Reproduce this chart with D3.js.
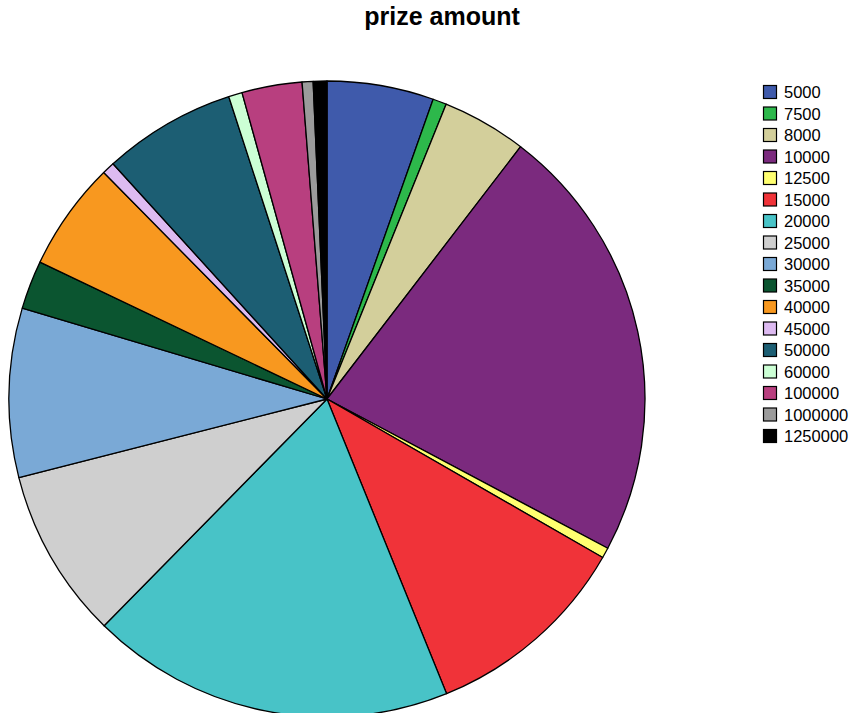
<!DOCTYPE html>
<html>
<head>
<meta charset="utf-8">
<script src="https://cdn.jsdelivr.net/npm/d3@7"></script>
<style>
  body { margin: 0; background: #fff; }
  text { font-family: "Liberation Sans", Arial, sans-serif; }
</style>
</head>
<body>
<div id="chart"></div>
<script>
// Prize amount categories
var categories = ["5000", "7500", "8000", "10000", "12500", "15000", "20000", "25000",
    "30000", "35000", "40000", "45000", "50000", "60000", "100000", "1000000", "1250000"];

// Share of each slice
var values = [19.5, 2.5, 15.5, 80.5, 1.9, 38.0, 66.6, 31.2, 30.9, 8.9, 19.9, 2.3, 24.3, 2.5, 11.0, 2.0, 2.5];

var colors = ["#3f5aab", "#2db84b", "#d3cf9b", "#7b2a7e", "#ffff70", "#f03339", "#48c3c7", "#cfcfcf",
    "#7aa9d6", "#0b5530", "#f8981f", "#ddbaf1", "#1c5e73", "#ccffd5", "#b83f7f", "#9b9b9b", "#000000"];

var width = 854, height = 713;
var cx = 327, cy = 399, radius = 318;

var svg = d3.select("#chart").append("svg")
    .attr("width", width)
    .attr("height", height);

// Title
svg.append("text")
    .attr("x", 442)
    .attr("y", 25)
    .attr("text-anchor", "middle")
    .attr("font-size", 25)
    .attr("font-weight", "bold")
    .text("prize amount");

var color = d3.scaleOrdinal().domain(categories).range(colors);

var pie = d3.pie().sort(null).value(d => d.value);
var arc = d3.arc().innerRadius(0).outerRadius(radius);

var data = categories.map((c, i) => ({ name: c, value: values[i] }));

// Slices
svg.append("g")
    .attr("transform", `translate(${cx},${cy})`)
    .selectAll("path")
    .data(pie(data))
    .join("path")
    .attr("d", arc)
    .attr("fill", d => color(d.data.name))
    .attr("stroke", "black")
    .attr("stroke-width", 1.3)
    .attr("stroke-linejoin", "round");

// Legend
var legendY = d3.scalePoint().domain(categories).range([92, 436]);

var legend = svg.append("g")
    .selectAll("g")
    .data(categories)
    .join("g")
    .attr("transform", d => `translate(763,${legendY(d)})`);

legend.append("rect")
    .attr("x", 0.5)
    .attr("y", -6.5)
    .attr("width", 13)
    .attr("height", 13)
    .attr("fill", d => color(d))
    .attr("stroke", "black")
    .attr("stroke-width", 1.2);

legend.append("text")
    .attr("x", 21)
    .attr("y", 6)
    .attr("font-size", 16.5)
    .text(d => d);
</script>
</body>
</html>
